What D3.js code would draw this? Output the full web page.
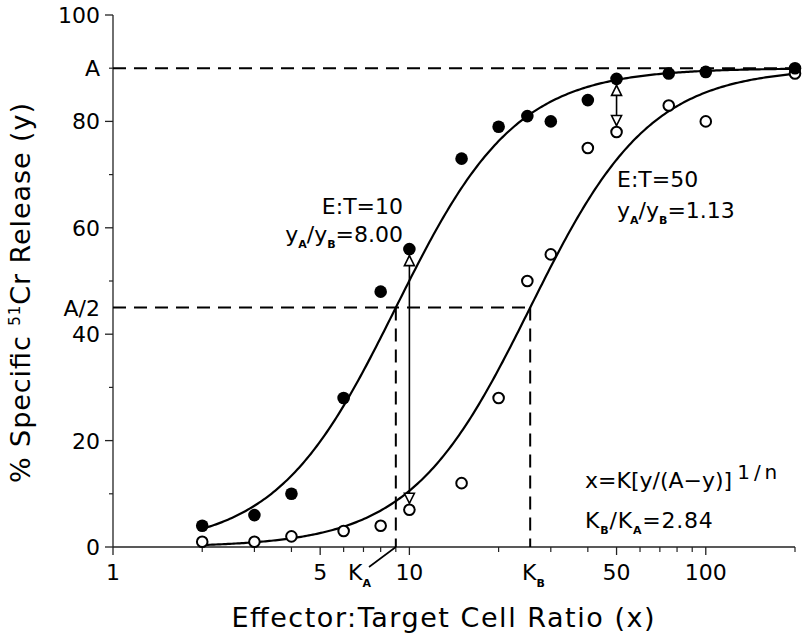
<!DOCTYPE html>
<html><head><meta charset="utf-8">
<script src="https://cdn.jsdelivr.net/npm/d3@7"></script>
<style>
html,body{margin:0;padding:0;background:#fff;}
svg{display:block;}
text{font-family:"DejaVu Sans",sans-serif;fill:#000;}
</style></head>
<body>
<script>
// ---- data ----
const ratioX = [2,3,4,6,8,10,15,20,25,30,40,50,75,100,200];
const filledY = [4,6,10,28,48,56,73,79,81,80,84,88,89,89.3,90];
const openY   = [1,1,2,3,4,7,12,28,50,55,75,78,83,80,89];
const plateauA = 90;
const K_A = 9.0;
const K_B = 25.56;
const hillN = 2.15;
const yTickMajor = [0,20,40,60,80,100];
const yTickMinor = [10,30,50,70,90];
const xTickMajor = [1,5,10,50,100];
const xTickMinor = [2,3,4,6,7,8,9,20,30,40,60,70,80,90,200];
const arrowPairs = [{x:10, top:56, bottom:7}, {x:50, top:88, bottom:78}];

const W = 802, H = 635;
const svg = d3.select("body").append("svg").attr("width", W).attr("height", H);

const x = d3.scaleLog().domain([1,200]).range([113,795]);
const y = d3.scaleLinear().domain([0,100]).range([547,15]);

// axes lines
svg.append("line").attr("x1",x(1)).attr("x2",x(200)).attr("y1",y(0)).attr("y2",y(0))
  .attr("stroke","#222").attr("stroke-width",1.3);
svg.append("line").attr("x1",x(1)).attr("x2",x(1)).attr("y1",y(0)).attr("y2",y(100))
  .attr("stroke","#222").attr("stroke-width",1.3);

// y ticks
yTickMajor.forEach(v=>{
  svg.append("line").attr("x1",x(1)-8).attr("x2",x(1)).attr("y1",y(v)).attr("y2",y(v)).attr("stroke","#222").attr("stroke-width",1.3);
  svg.append("text").attr("x",100).attr("y",y(v)).attr("dy","0.36em").attr("text-anchor","end")
    .attr("font-size",22).text(v);
});
yTickMinor.forEach(v=>{
  svg.append("line").attr("x1",x(1)-4).attr("x2",x(1)).attr("y1",y(v)).attr("y2",y(v)).attr("stroke","#222").attr("stroke-width",1.2);
});
svg.append("text").attr("x",100).attr("y",y(plateauA)).attr("dy","0.36em").attr("text-anchor","end").attr("font-size",22).text("A");
svg.append("text").attr("x",100).attr("y",y(plateauA/2)).attr("dy","0.36em").attr("text-anchor","end").attr("font-size",22).text("A/2");

// x ticks
xTickMajor.forEach(v=>{
  svg.append("line").attr("x1",x(v)).attr("x2",x(v)).attr("y1",y(0)).attr("y2",y(0)+8).attr("stroke","#222").attr("stroke-width",1.3);
  svg.append("text").attr("x",x(v)).attr("y",580).attr("text-anchor","middle").attr("font-size",22).text(v);
});
xTickMinor.forEach(v=>{
  svg.append("line").attr("x1",x(v)).attr("x2",x(v)).attr("y1",y(0)).attr("y2",y(0)+5).attr("stroke","#222").attr("stroke-width",1.2);
});

// K labels
function kLabel(cx, sub){
  const t = svg.append("text").attr("x",cx).attr("y",580).attr("font-size",22);
  t.append("tspan").text("K");
  t.append("tspan").attr("dy",7).attr("font-size",11).attr("font-weight","bold").text(sub);
}
kLabel(348,"A");
kLabel(522,"B");
svg.append("line").attr("x1",369).attr("y1",567).attr("x2",x(K_A)).attr("y2",y(0))
  .attr("stroke","#000").attr("stroke-width",1.6);

// dashed lines
function dline(x1,y1,x2,y2){
  svg.append("line").attr("x1",x1).attr("y1",y1).attr("x2",x2).attr("y2",y2)
    .attr("stroke","#000").attr("stroke-width",2).attr("stroke-dasharray","13,8");
}
dline(x(1),y(plateauA),x(200),y(plateauA));
dline(x(1),y(plateauA/2),x(K_B),y(plateauA/2));
dline(x(K_A),y(plateauA/2),x(K_A),y(0));
dline(x(K_B),y(plateauA/2),x(K_B),y(0));

// curves
const hill = K => v => plateauA*Math.pow(v/K,hillN)/(1+Math.pow(v/K,hillN));
const xs = d3.range(0,301).map(i=>Math.pow(10, Math.log10(2)+i*(Math.log10(200)-Math.log10(2))/300));
const line = d3.line().x(d=>x(d[0])).y(d=>y(d[1]));
[K_A,K_B].forEach(K=>{
  svg.append("path").attr("d",line(xs.map(v=>[v,hill(K)(v)]))).attr("fill","none")
    .attr("stroke","#000").attr("stroke-width",2.2);
});

// arrows
arrowPairs.forEach(p=>{
  const yt = y(p.top)+6.5, yb = y(p.bottom)-6.5;
  const cx = x(p.x);
  svg.append("line").attr("x1",cx).attr("x2",cx).attr("y1",yt).attr("y2",yb).attr("stroke","#000").attr("stroke-width",1.6);
  svg.append("path").attr("d",`M${cx},${yt}L${cx-5},${yt+10}L${cx+5},${yt+10}Z`).attr("fill","#fff").attr("stroke","#000").attr("stroke-width",1.6);
  svg.append("path").attr("d",`M${cx},${yb}L${cx-5},${yb-10}L${cx+5},${yb-10}Z`).attr("fill","#fff").attr("stroke","#000").attr("stroke-width",1.6);
});

// points
svg.selectAll("circle.open").data(ratioX.map((v,i)=>[v,openY[i]])).enter().append("circle")
  .attr("class","open").attr("cx",d=>x(d[0])).attr("cy",d=>y(d[1])).attr("r",5.3)
  .attr("fill","#fff").attr("stroke","#000").attr("stroke-width",2);
svg.selectAll("circle.filled").data(ratioX.map((v,i)=>[v,filledY[i]])).enter().append("circle")
  .attr("class","filled").attr("cx",d=>x(d[0])).attr("cy",d=>y(d[1])).attr("r",6.3)
  .attr("fill","#000");

// annotations: text with two subscripts  a _s1 b _s2 c
function twoSub(t, a, s1, b, s2, c){
  t.append("tspan").text(a);
  t.append("tspan").attr("dy",6).attr("font-size",11).attr("font-weight","bold").text(s1);
  t.append("tspan").attr("dy",-6).text(b);
  t.append("tspan").attr("dy",6).attr("font-size",11).attr("font-weight","bold").text(s2);
  t.append("tspan").attr("dy",-6).text(c);
  return t;
}
svg.append("text").attr("x",403).attr("y",214).attr("text-anchor","end").attr("font-size",22).text("E:T=10");
twoSub(svg.append("text").attr("x",403).attr("y",242).attr("font-size",22).attr("text-anchor","end"),
  "y","A","/y","B","=8.00");
svg.append("text").attr("x",617).attr("y",187).attr("font-size",22).text("E:T=50");
twoSub(svg.append("text").attr("x",617).attr("y",218).attr("font-size",22),
  "y","A","/y","B","=1.13");

const f = svg.append("text").attr("x",585).attr("y",488).attr("font-size",22);
f.append("tspan").text("x=K[y/(A\u2212y)]");
f.append("tspan").attr("dy",-9).attr("dx",5).attr("font-size",20).attr("letter-spacing",4).text("1/n");
twoSub(svg.append("text").attr("x",585).attr("y",528).attr("font-size",22).attr("letter-spacing",0.8),
  "K","B","/K","A","=2.84");

// axis titles
svg.append("text").attr("x",443).attr("y",627).attr("text-anchor","middle").attr("font-size",27)
  .attr("textLength",423).attr("lengthAdjust","spacing").text("Effector:Target Cell Ratio (x)");
const yt = svg.append("text").attr("transform","translate(30,293) rotate(-90)").attr("text-anchor","middle")
  .attr("font-size",27).attr("textLength",380).attr("lengthAdjust","spacing");
yt.append("tspan").text("% Specific ");
yt.append("tspan").attr("dy",-10).attr("font-size",15).text("51");
yt.append("tspan").attr("dy",10).text("Cr Release (y)");
</script>
</body></html>
